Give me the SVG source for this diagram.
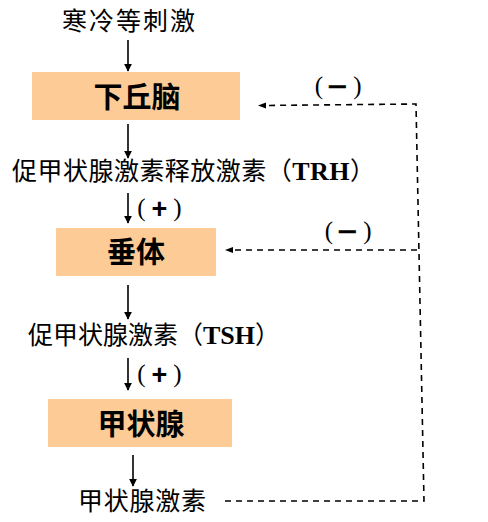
<svg xmlns="http://www.w3.org/2000/svg" width="488" height="522" viewBox="0 0 488 522">
<style>
.lbl{font-family:"Noto Sans CJK SC","Noto Sans CJK JP",sans-serif;font-size:25px;fill:#000}
.lat{font-family:"Liberation Serif","Noto Sans CJK SC",serif;font-weight:bold;font-size:26px}
.box{fill:#FCCB96}
.bt{font-family:"Noto Sans CJK SC","Noto Sans CJK JP",sans-serif;font-size:29px;font-weight:bold;fill:#000;text-anchor:middle}
.sym{font-family:"Liberation Serif",serif;font-size:25px;fill:#000;text-anchor:middle}
.op{font-family:"Liberation Sans",sans-serif;font-size:27px;font-weight:bold;fill:#000;text-anchor:middle}
.mn{font-family:"Liberation Sans",sans-serif;font-size:34px;fill:#000;stroke:#000;stroke-width:0.6;text-anchor:middle}
.ar{stroke:#000;stroke-width:1.6;fill:none;marker-end:url(#ah)}
.da{stroke:#000;stroke-width:1.6;fill:none;stroke-dasharray:6,5}
</style>
<defs>
<marker id="ah" viewBox="0 0 10 10" refX="9" refY="5" markerWidth="5" markerHeight="5" orient="auto" markerUnits="strokeWidth">
<path d="M0,0 L10,5 L0,10 z" fill="#000"/>
</marker>
</defs>
<g id="stimulus"><text class="lbl" x="62" y="30" textLength="133">寒冷等刺激</text></g>
<g id="hypothalamus"><rect class="box" x="32" y="72" width="208" height="48"/><text class="bt" x="137" y="108">下丘脑</text></g>
<g id="trh"><text class="lbl" x="12" y="180" textLength="363">促甲状腺激素释放激素（<tspan class="lat">TRH</tspan>）</text></g>
<g id="pituitary"><rect class="box" x="56" y="228" width="160" height="48"/><text class="bt" x="136" y="263">垂体</text></g>
<g id="tsh"><text class="lbl" x="28" y="344" textLength="252">促甲状腺激素（<tspan class="lat">TSH</tspan>）</text></g>
<g id="thyroid"><rect class="box" x="48" y="399" width="184" height="48"/><text class="bt" x="141" y="435">甲状腺</text></g>
<g id="thyroxine"><text class="lbl" x="78" y="510" textLength="128">甲状腺激素</text></g>
<g id="connectors">
<line class="ar" x1="128" y1="40" x2="128" y2="71"/>
<line class="ar" x1="128" y1="124" x2="128" y2="158"/>
<line class="ar" x1="128" y1="193" x2="128" y2="223"/>
<line class="ar" x1="128" y1="285" x2="128" y2="319"/>
<line class="ar" x1="128" y1="358" x2="128" y2="390"/>
<line class="ar" x1="133" y1="455" x2="133" y2="486"/>
<path class="da" d="M225,501 L424,501 L416,104 L262,105.5"/>
<path d="M258,105.5 L266,102.5 L266,108.5 z" fill="#000"/>
<path class="da" d="M417,250 L229,250"/>
<path d="M225,250 L233,247 L233,253 z" fill="#000"/>
<text class="sym" x="319" y="94">(</text><text class="mn" x="337.5" y="98">−</text><text class="sym" x="357.5" y="94">)</text>
<text class="sym" x="329" y="239">(</text><text class="mn" x="347.5" y="243">−</text><text class="sym" x="367.5" y="239">)</text>
<text class="sym" x="141.5" y="216">(</text><text class="op" x="159.5" y="218">+</text><text class="sym" x="177.5" y="216">)</text>
<text class="sym" x="141.5" y="382">(</text><text class="op" x="159.5" y="384">+</text><text class="sym" x="177.5" y="382">)</text>
</g>
</svg>
